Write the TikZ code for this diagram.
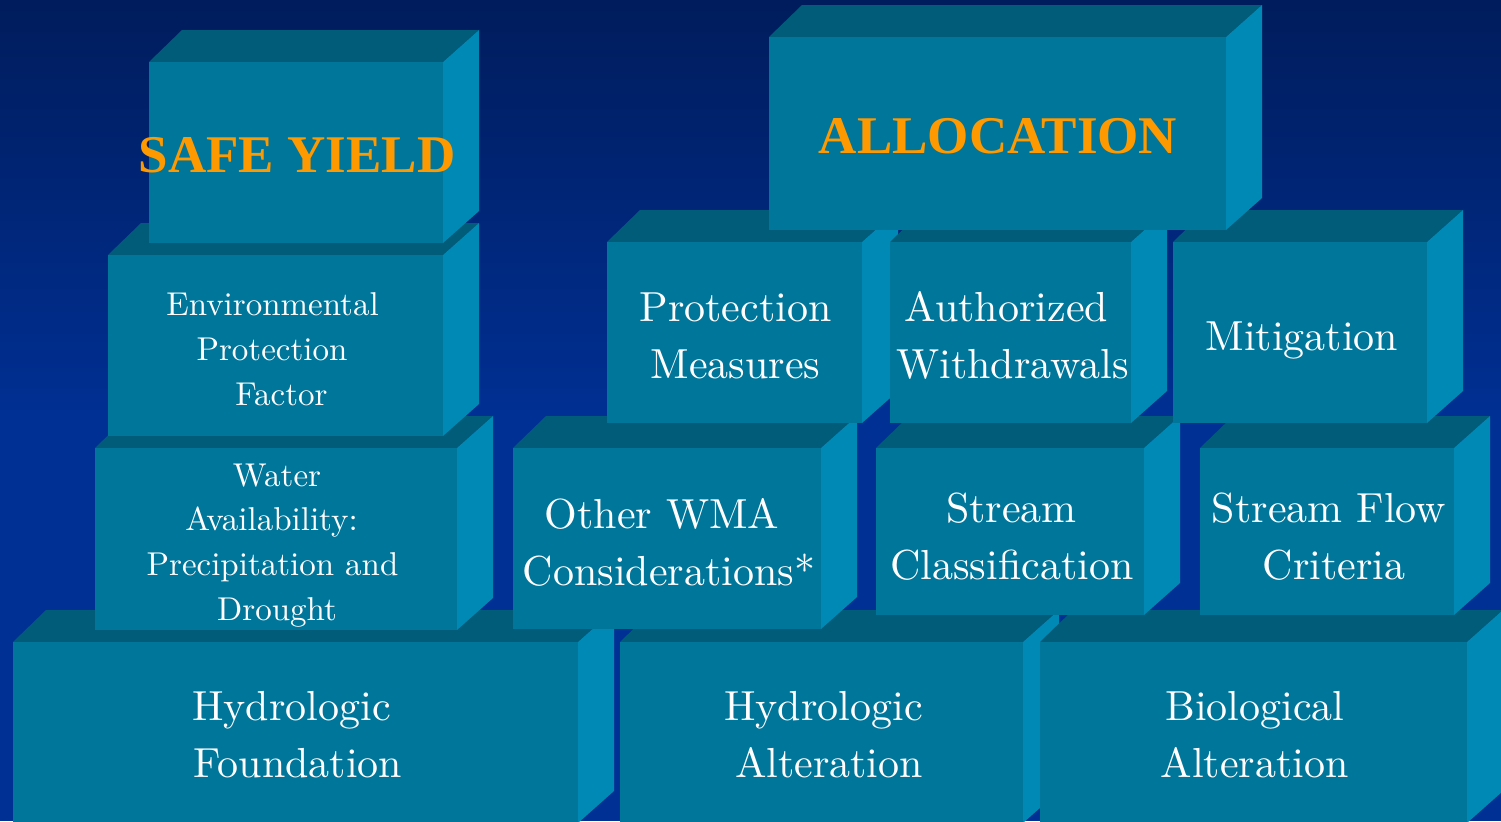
\documentclass[tikz,border=0pt]{standalone}
\usepackage{fontspec}
\setmainfont{lmroman10-regular.otf}
\newfontfamily\headfont{Liberation Serif}
\definecolor{bgtop}{RGB}{0,28,92}
\definecolor{bgmid}{RGB}{0,48,148}
\definecolor{frontface}{RGB}{0,118,154}
\definecolor{topface}{RGB}{0,92,120}
\definecolor{sideface}{RGB}{0,137,181}
\definecolor{titleorange}{RGB}{255,153,0}

% A block seen from the front: front face (x1,y1)-(x2,y2), top and right faces behind it
\newcommand\blockbox[4]{%
  \fill[topface] (#1,#2) -- ({#1+33},{#2-32}) -- ({#3+36},{#2-32}) -- (#3,#2) -- cycle;
  \fill[sideface] (#3,#2) -- ({#3+36},{#2-32}) -- ({#3+36},{#4-32}) -- (#3,#4) -- cycle;
  \fill[frontface] (#1,#2) rectangle (#3,#4);
}

\tikzset{
  biglabel/.style={text=white, font=\fontsize{21}{25}\selectfont, anchor=base, inner sep=0pt},
  smalllabel/.style={text=white, font=\fontsize{16.5}{20}\selectfont, anchor=base, inner sep=0pt},
  titlelabel/.style={text=titleorange, font=\headfont\bfseries\fontsize{26.5}{30}\selectfont, anchor=base, inner sep=0pt}
}

\begin{document}
\begin{tikzpicture}[x=0.5pt,y=-0.5pt]
\useasboundingbox (0,0) rectangle (1501,821);
\clip (0,0) rectangle (1501,821);

% background
\shade[top color=bgtop, bottom color=bgmid] (0,0) rectangle (1501,420);
\fill[bgmid] (0,419) rectangle (1501,821);

% bottom row
\blockbox{13}{642}{578}{823}
\blockbox{620}{642}{1023}{823}
\blockbox{1040}{642}{1467}{823}

% second row
\blockbox{95}{448}{457}{630}
\blockbox{513}{448}{821}{629}
\blockbox{876}{448}{1144}{615}
\blockbox{1200}{448}{1454}{615}

% third row
\blockbox{108}{255}{443}{436}
\blockbox{607}{242}{862}{423}
\blockbox{890}{242}{1131}{423}
\blockbox{1173}{242}{1427}{423}

% top row
\blockbox{149}{62}{443}{243}
\blockbox{769}{37}{1226}{230}

% titles
\node[titlelabel] (safeyield) at (297,172) {SAFE YIELD};
\node[titlelabel] (allocation) at (998,153) {ALLOCATION};

% left column
\node[smalllabel] (env1) at (272.5,315) {Environmental};
\node[smalllabel] (env2) at (272,360) {Protection};
\node[smalllabel] (env3) at (281.5,405) {Factor};

\node[smalllabel] (wa1) at (277,486) {Water};
\node[smalllabel] (wa2) at (271.5,530) {Availability:};
\node[smalllabel] (wa3) at (272.5,575) {Precipitation and};
\node[smalllabel] (wa4) at (277,620) {Drought};

% bottom row labels
\node[biglabel] (hf1) at (291.5,720) {Hydrologic};
\node[biglabel] (hf2) at (298,777) {Foundation};
\node[biglabel] (ha1) at (823.5,720) {Hydrologic};
\node[biglabel] (ha2) at (829,777) {Alteration};
\node[biglabel] (ba1) at (1255,720) {Biological};
\node[biglabel] (ba2) at (1254.5,777) {Alteration};

% third row labels
\node[biglabel] (pm1) at (735.5,321) {Protection};
\node[biglabel] (pm2) at (735.5,378) {Measures};
\node[biglabel] (aw1) at (1006.5,321) {Authorized};
\node[biglabel] (aw2) at (1012.5,378) {Withdrawals};
\node[biglabel] (mit) at (1302,350) {Mitigation};

% second row labels
\node[biglabel] (ow1) at (662,528) {Other WMA};
\node[biglabel] (ow2) at (669,585) {Considerations*};
\node[biglabel] (sc1) at (1011.5,522) {Stream};
\node[biglabel] (sc2) at (1012,579) {Classification};
\node[biglabel] (sf1) at (1329,522) {Stream Flow};
\node[biglabel] (sf2) at (1334,579) {Criteria};
\end{tikzpicture}
\end{document}
